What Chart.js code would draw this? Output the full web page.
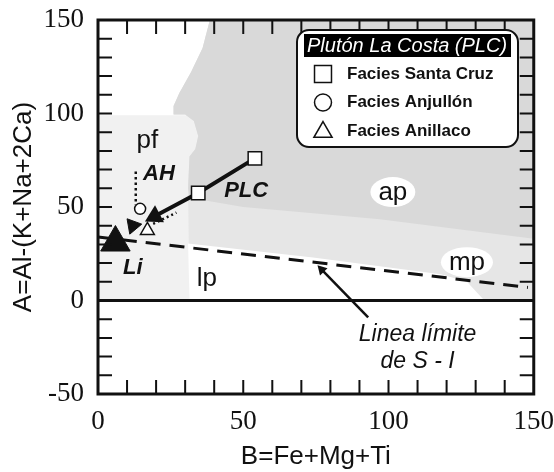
<!DOCTYPE html>
<html>
<head>
<meta charset="utf-8">
<script src="https://cdn.jsdelivr.net/npm/chart.js@4.4.1/dist/chart.umd.min.js"></script>
<style>
  html, body { margin: 0; padding: 0; background: #fff; }
  #wrap { width: 554px; height: 472px; }
</style>
</head>
<body>
<div id="wrap"><canvas id="abChart" width="554" height="472"></canvas></div>
<script>
// tick labels
const xTicks = [0, 50, 100, 150];
const yTicks = [-50, 0, 50, 100, 150];
const minorStep = 10;

// Pluton La Costa samples
const santaCruzX = [54, 34.5];
const santaCruzY = [76, 57.5];
const anjullonX = [14.5];
const anjullonY = [49];
const anillacoX = [17];
const anillacoY = [37.5];
const darkTriX = [12];
const darkTriY = [40];
const liX = [6];
const liY = [31];

// trend lines
const plcX = [54, 34.5, 19.5];
const plcY = [76, 57.5, 45];
const ahX = [13, 13];
const ahY = [69, 51];
const anillacoTrendX = [19, 27];
const anillacoTrendY = [41, 47];
const siX = [0, 148];
const siY = [34, 7];
const zeroX = [0, 150];
const zeroY = [0, 0];
const siArrowX = [93, 77];
const siArrowY = [-9, 16.5];

// field outlines (Villaseca diagram)
const pfX = [0, 36, 36, 0];
const pfY = [0, 0, 99, 99];
const bandX = [38.5, 36, 32, 28, 26, 26, 30, 33, 34.5, 33.5, 31.5, 31, 31.5, 150, 150];
const bandY = [150, 135, 122, 111, 104, 99.5, 99.5, 96, 88, 81, 77, 60, 0, 0, 150];
const apX = [38.5, 36, 32, 28, 26, 26, 30, 33, 34.5, 33.5, 31.5, 31, 31.5, 50, 97, 150, 150];
const apY = [150, 135, 122, 111, 104, 99.5, 99.5, 96, 88, 81, 77, 60, 55, 50, 43.5, 33, 150];
const lpX = [31.5, 31, 74, 118, 127, 133];
const lpY = [0, 30.5, 23, 14, 10, 0];

const legendLabels = ['Facies Santa Cruz', 'Facies Anjullón', 'Facies Anillaco'];
const legendStyles = ['rect', 'circle', 'triangle'];

const pts = (xs, ys) => xs.map((x, i) => ({x: x, y: ys[i]}));

const sans = '"Liberation Sans", Arial, sans-serif';
const serif = '"Liberation Serif", "Times New Roman", serif';

function field(data, color, order) {
  return { data: data, showLine: true, fill: 'shape', backgroundColor: color,
           borderWidth: 0, pointRadius: 0, order: order };
}

const fieldLabels = [
  {text: 'pf', x: 17, y: 86, font: '26px ' + sans},
  {text: 'ap', x: 101.5, y: 58, font: '26px ' + sans, bg: true},
  {text: 'mp', x: 127, y: 20.5, font: '26px ' + sans, bg: true},
  {text: 'lp', x: 37.5, y: 12, font: '26px ' + sans},
  {text: 'AH', x: 21, y: 68, font: 'italic bold 22px ' + sans},
  {text: 'PLC', x: 51, y: 59, font: 'italic bold 22px ' + sans},
  {text: 'Li', x: 12, y: 18, font: 'italic bold 22px ' + sans},
  {text: 'Linea límite', x: 110, y: -17.5, font: 'italic 23px ' + sans},
  {text: 'de S - I', x: 110, y: -32, font: 'italic 23px ' + sans}
];

const frameTicks = {
  id: 'frameTicks',
  afterDatasetsDraw(chart) {
    const {ctx, chartArea: a, scales: {x, y}} = chart;
    ctx.save();
    ctx.strokeStyle = '#111';
    ctx.lineWidth = 2;
    const len = 14;
    ctx.beginPath();
    for (let v = minorStep; v < 150; v += minorStep) {
      const px = x.getPixelForValue(v);
      ctx.moveTo(px, a.bottom); ctx.lineTo(px, a.bottom - len);
      ctx.moveTo(px, a.top); ctx.lineTo(px, a.top + len);
    }
    for (let v = -50 + minorStep; v < 150; v += minorStep) {
      const py = y.getPixelForValue(v);
      ctx.moveTo(a.left, py); ctx.lineTo(a.left + len, py);
      ctx.moveTo(a.right, py); ctx.lineTo(a.right - len, py);
    }
    ctx.stroke();
    ctx.lineWidth = 3;
    ctx.strokeRect(a.left, a.top, a.right - a.left, a.bottom - a.top);

    // field names and notes
    ctx.textAlign = 'center';
    ctx.textBaseline = 'middle';
    fieldLabels.forEach(l => {
      const px = x.getPixelForValue(l.x), py = y.getPixelForValue(l.y);
      ctx.font = l.font;
      if (l.bg) {
        const w = ctx.measureText(l.text).width;
        ctx.fillStyle = '#fff';
        ctx.beginPath();
        ctx.ellipse(px, py, w / 2 + 8, 15, 0, 0, Math.PI * 2);
        ctx.fill();
      }
      ctx.fillStyle = '#111';
      ctx.fillText(l.text, px, py + 1);
    });
    ctx.restore();
  }
};

const legendBox = {
  id: 'legendBox',
  afterDraw(chart) {
    const c = chart.ctx;
    c.save();
    c.beginPath();
    c.roundRect(297, 30, 221, 117, 12);
    c.fillStyle = '#fff';
    c.fill();
    c.lineWidth = 2;
    c.strokeStyle = '#111';
    c.stroke();
    c.fillStyle = '#000';
    c.fillRect(304, 34, 207, 23);
    c.fillStyle = '#fff';
    c.font = 'italic 20px ' + sans;
    c.textBaseline = 'middle';
    c.fillText('Plutón La Costa (PLC)', 307, 46);

    const sizes = {rect: 12, circle: 8.5, triangle: 10.5};
    legendLabels.forEach((lab, i) => {
      const cy = 74 + i * 28.5;
      c.fillStyle = '#fff';
      c.strokeStyle = '#111';
      c.lineWidth = 1.5;
      Chart.helpers.drawPoint(c, {pointStyle: legendStyles[i], radius: sizes[legendStyles[i]],
        borderWidth: 1.5, rotation: 0}, 323, cy + (legendStyles[i] === 'triangle' ? 1 : 0));
      c.fillStyle = '#111';
      c.font = 'bold 17px ' + sans;
      c.fillText(lab, 347, cy);
    });
    c.restore();
  }
};

new Chart(document.getElementById('abChart'), {
  type: 'scatter',
  data: {
    datasets: [
      { data: pts(santaCruzX, santaCruzY), pointStyle: 'rect', pointRadius: 9.5,
        backgroundColor: '#fff', borderColor: '#111', borderWidth: 1.5, order: 1 },
      { data: pts(anjullonX, anjullonY), pointStyle: 'circle', pointRadius: 5.5,
        backgroundColor: '#fff', borderColor: '#111', borderWidth: 1.5, order: 1 },
      { data: pts(anillacoX, anillacoY), pointStyle: 'triangle', pointRadius: 8,
        backgroundColor: '#fff', borderColor: '#111', borderWidth: 1.5, order: 1 },
      { data: pts(darkTriX, darkTriY), pointStyle: 'triangle', pointRadius: 9, pointRotation: 200,
        backgroundColor: '#111', borderColor: '#111', borderWidth: 1, order: 1 },
      { data: pts(liX, liY), pointStyle: 'triangle', pointRadius: 17,
        backgroundColor: '#111', borderColor: '#111', borderWidth: 1, order: 1 },
      { data: pts(plcX, plcY), showLine: true, borderColor: '#111', borderWidth: 4,
        pointRadius: [0, 0, 11], pointStyle: 'triangle', pointRotation: 242,
        backgroundColor: '#111', pointBorderWidth: 0, order: 2 },
      { data: pts(ahX, ahY), showLine: true, borderColor: '#111', borderWidth: 2.5,
        borderDash: [2.5, 3], pointRadius: 0, order: 2 },
      { data: pts(anillacoTrendX, anillacoTrendY), showLine: true, borderColor: '#111', borderWidth: 2.5,
        borderDash: [2, 3], pointRadius: 0, order: 2 },
      { data: pts(siArrowX, siArrowY), showLine: true, borderColor: '#111', borderWidth: 2.5,
        pointRadius: [0, 6], pointStyle: 'triangle', pointRotation: -44,
        backgroundColor: '#111', pointBorderWidth: 0, order: 2 },
      { data: pts(siX, siY), showLine: true, borderColor: '#111', borderWidth: 3,
        borderDash: [15, 9], pointRadius: 0, order: 3 },
      { data: pts(zeroX, zeroY), showLine: true, borderColor: '#111', borderWidth: 3,
        pointRadius: 0, order: 3 },
      field(pts(lpX, lpY), '#ffffff', 20),
      field(pts(apX, apY), '#d9d9d9', 21),
      field(pts(bandX, bandY), '#e6e6e6', 22),
      field(pts(pfX, pfY), '#f1f1f1', 23)
    ]
  },
  options: {
    responsive: false,
    animation: false,
    layout: { padding: { top: 20, right: 20, left: 0, bottom: 0 } },
    plugins: { legend: { display: false }, tooltip: { enabled: false } },
    scales: {
      x: {
        type: 'linear', min: 0, max: 150,
        afterBuildTicks: s => { s.ticks = xTicks.map(v => ({value: v})); },
        afterFit: s => { s.height = 78; },
        grid: { display: false, drawTicks: true, tickLength: 12 },
        border: { display: false },
        ticks: { color: '#111', font: { family: serif, size: 27 }, padding: 0, maxRotation: 0 },
        title: { display: true, text: 'B=Fe+Mg+Ti', color: '#111',
                 font: { family: sans, size: 26 }, padding: { top: 0, bottom: 0 } }
      },
      y: {
        type: 'linear', min: -50, max: 150,
        afterBuildTicks: s => { s.ticks = yTicks.map(v => ({value: v})); },
        afterFit: s => { s.width = 98; },
        grid: { display: false, drawTicks: true, tickLength: 14 },
        border: { display: false },
        ticks: { color: '#111', font: { family: serif, size: 27 }, padding: 0 },
        title: { display: true, text: 'A=Al-(K+Na+2Ca)', color: '#111',
                 font: { family: sans, size: 26 }, padding: { top: 8, bottom: 0 } }
      }
    }
  },
  plugins: [frameTicks, legendBox]
});
</script>
</body>
</html>
